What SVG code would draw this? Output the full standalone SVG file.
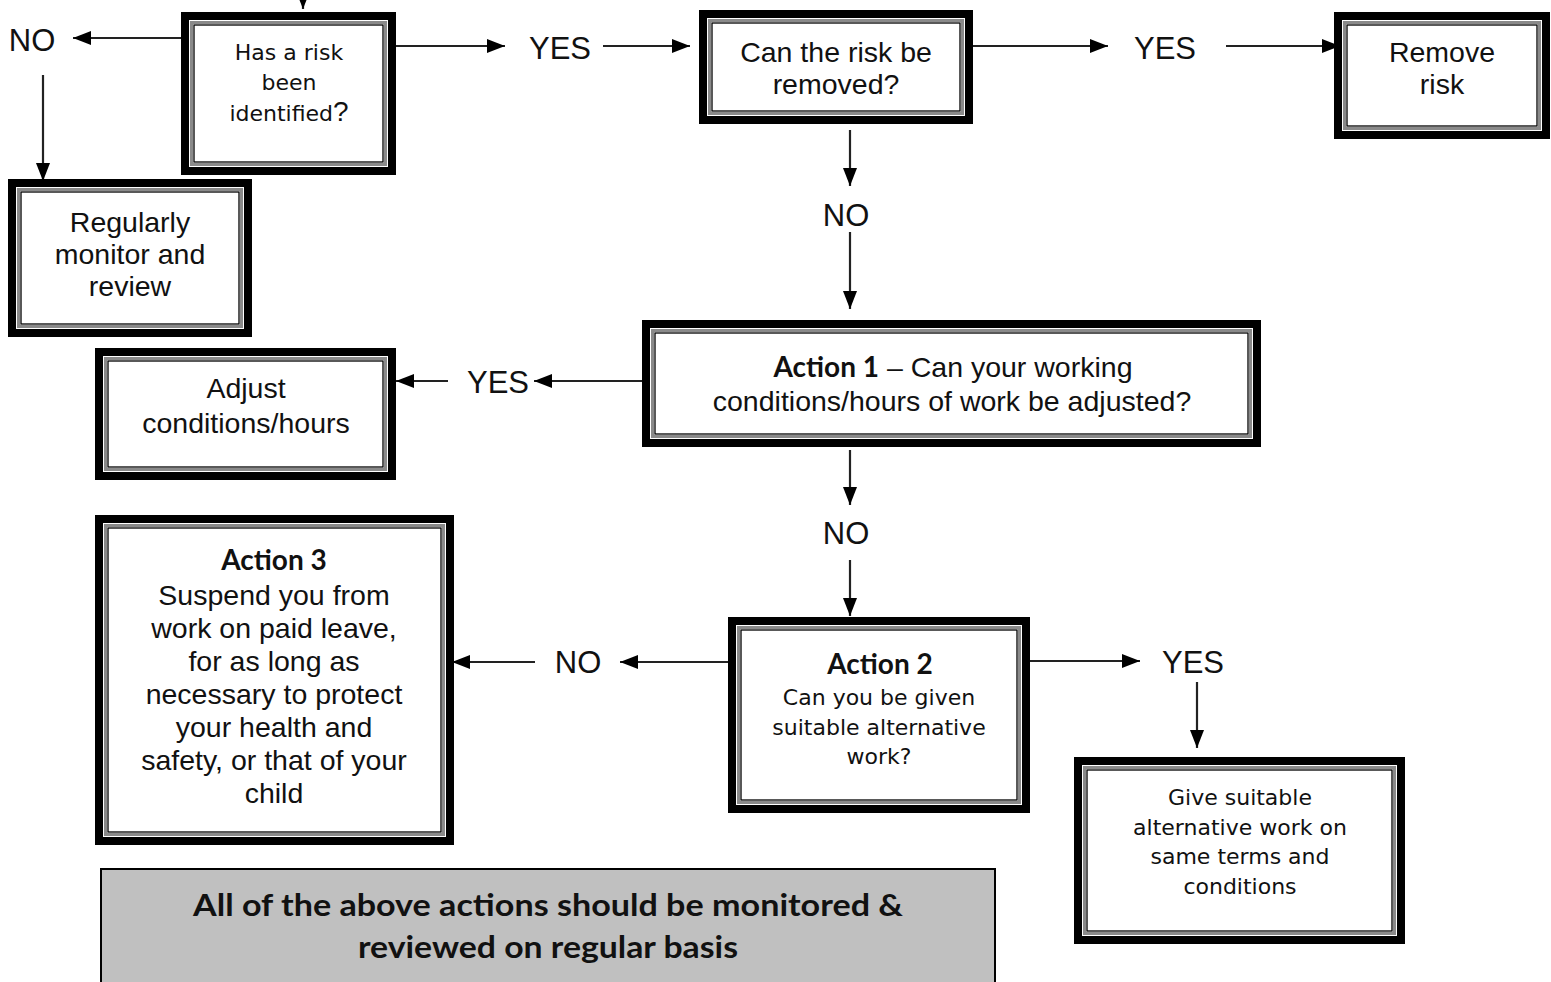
<svg xmlns="http://www.w3.org/2000/svg" width="1551" height="982" viewBox="0 0 1551 982">
<style>
.o{fill:#fff;stroke:#000;stroke-width:8}
.g{fill:none;stroke:#8a8a8a;stroke-width:3}
.k{fill:none;stroke:#000;stroke-width:1.3}
.t{font-family:"Liberation Sans",Arial,sans-serif;font-size:28.5px;fill:#111;text-anchor:middle}
.d{font-family:"DejaVu Sans",Verdana,sans-serif;font-size:22px;fill:#111;text-anchor:middle}
.b{font-family:Lato,"Liberation Sans",sans-serif;font-weight:bold;fill:#111;text-anchor:middle}
.l{font-family:"Liberation Sans",Arial,sans-serif;font-size:31px;fill:#111;text-anchor:middle}
.c{stroke:#222;stroke-width:2.2;fill:none;marker-end:url(#ah)}
</style>
<defs>
<marker id="ah" markerUnits="userSpaceOnUse" markerWidth="20" markerHeight="16" refX="18" refY="7" orient="auto">
<path d="M0,0 L18,7 L0,14 z" fill="#000"/>
</marker>
</defs>
<rect width="1551" height="982" fill="#fff"/>

<g id="connectors">
<line class="c" x1="303" y1="-20" x2="303" y2="9"/>
<line class="c" x1="181" y1="38" x2="73" y2="38"/>
<line class="c" x1="43" y1="75" x2="43" y2="181"/>
<line class="c" x1="396" y1="46" x2="505" y2="46"/>
<line class="c" x1="603" y1="46" x2="690" y2="46"/>
<line class="c" x1="973" y1="46" x2="1108" y2="46"/>
<line class="c" x1="1226" y1="46" x2="1340" y2="46"/>
<line class="c" x1="850" y1="130" x2="850" y2="186"/>
<line class="c" x1="850" y1="232" x2="850" y2="309"/>
<line class="c" x1="642" y1="381" x2="534" y2="381"/>
<line class="c" x1="448" y1="381" x2="396" y2="381"/>
<line class="c" x1="850" y1="450" x2="850" y2="505"/>
<line class="c" x1="850" y1="560" x2="850" y2="616"/>
<line class="c" x1="728" y1="662" x2="620" y2="662"/>
<line class="c" x1="535" y1="662" x2="452" y2="662"/>
<line class="c" x1="1030" y1="661" x2="1140" y2="661"/>
<line class="c" x1="1197" y1="682" x2="1197" y2="748"/>
<text class="l" x="32" y="51">NO</text>
<text class="l" x="560" y="59">YES</text>
<text class="l" x="1165" y="59">YES</text>
<text class="l" x="846" y="226">NO</text>
<text class="l" x="498" y="393">YES</text>
<text class="l" x="846" y="544">NO</text>
<text class="l" x="578" y="673">NO</text>
<text class="l" x="1193" y="673">YES</text>
</g>

<g id="risk-identified">
<rect class="o" x="185" y="16" width="207" height="155"/>
<rect class="g" x="191.5" y="22.5" width="194" height="142"/>
<rect class="k" x="194" y="25" width="189" height="137"/>
<text class="d" x="289" y="60">Has a risk</text>
<text class="d" x="289" y="90">been</text>
<text class="d" x="289" y="121">identified<tspan font-family="Liberation Sans, Arial, sans-serif" font-size="28">?</tspan></text>
</g>

<g id="risk-removed">
<rect class="o" x="703" y="14" width="266" height="106"/>
<rect class="g" x="709.5" y="20.5" width="253" height="93"/>
<rect class="k" x="712" y="23" width="248" height="88"/>
<text class="t" x="836" y="62">Can the risk be</text>
<text class="t" x="836" y="94">removed?</text>
</g>

<g id="remove-risk">
<rect class="o" x="1338" y="16" width="208" height="119"/>
<rect class="g" x="1344.5" y="22.5" width="195" height="106"/>
<rect class="k" x="1347" y="25" width="190" height="101"/>
<text class="t" x="1442" y="62">Remove</text>
<text class="t" x="1442" y="94">risk</text>
</g>

<g id="monitor-review">
<rect class="o" x="12" y="183" width="236" height="150"/>
<rect class="g" x="18.5" y="189.5" width="223" height="137"/>
<rect class="k" x="21" y="192" width="218" height="132"/>
<text class="t" x="130" y="232">Regularly</text>
<text class="t" x="130" y="264">monitor and</text>
<text class="t" x="130" y="296">review</text>
</g>

<g id="adjust">
<rect class="o" x="99" y="352" width="293" height="124"/>
<rect class="g" x="105.5" y="358.5" width="280" height="111"/>
<rect class="k" x="108" y="361" width="275" height="106"/>
<text class="t" x="246" y="398">Adjust</text>
<text class="t" x="246" y="433">conditions/hours</text>
</g>

<g id="action1">
<rect class="o" x="646" y="324" width="611" height="119"/>
<rect class="g" x="652.5" y="330.5" width="598" height="106"/>
<rect class="k" x="655" y="333" width="593" height="101"/>
<text class="t" x="953" y="377"><tspan font-family="Lato, Liberation Sans, sans-serif" font-weight="bold" font-size="28">Action 1</tspan> – Can your working</text>
<text class="t" x="952" y="411">conditions/hours of work be adjusted?</text>
</g>

<g id="action3">
<rect class="o" x="99" y="519" width="351" height="322"/>
<rect class="g" x="105.5" y="525.5" width="338" height="309"/>
<rect class="k" x="108" y="528" width="333" height="304"/>
<text class="b" x="274" y="570" font-size="28">Action 3</text>
<text class="t" x="274" y="605">Suspend you from</text>
<text class="t" x="274" y="638">work on paid leave,</text>
<text class="t" x="274" y="671">for as long as</text>
<text class="t" x="274" y="704">necessary to protect</text>
<text class="t" x="274" y="737">your health and</text>
<text class="t" x="274" y="770">safety, or that of your</text>
<text class="t" x="274" y="803">child</text>
</g>

<g id="action2">
<rect class="o" x="732" y="621" width="294" height="188"/>
<rect class="g" x="738.5" y="627.5" width="281" height="175"/>
<rect class="k" x="741" y="630" width="276" height="170"/>
<text class="b" x="880" y="674" font-size="28">Action 2</text>
<text class="d" x="879" y="705">Can you be given</text>
<text class="d" x="879" y="735">suitable alternative</text>
<text class="d" x="879" y="764">work?</text>
</g>

<g id="alternative-work">
<rect class="o" x="1078" y="761" width="323" height="179"/>
<rect class="g" x="1084.5" y="767.5" width="310" height="166"/>
<rect class="k" x="1087" y="770" width="305" height="161"/>
<text class="d" x="1240" y="805">Give suitable</text>
<text class="d" x="1240" y="835">alternative work on</text>
<text class="d" x="1240" y="864">same terms and</text>
<text class="d" x="1240" y="894">conditions</text>
</g>

<g id="note">
<rect x="101" y="869" width="894" height="130" fill="#c0c0c0" stroke="#000" stroke-width="2"/>
<text class="b" x="548" y="916" font-size="30" textLength="710" lengthAdjust="spacingAndGlyphs">All of the above actions should be monitored &amp;</text>
<text class="b" x="548" y="958" font-size="30" textLength="380" lengthAdjust="spacingAndGlyphs">reviewed on regular basis</text>
</g>
</svg>
